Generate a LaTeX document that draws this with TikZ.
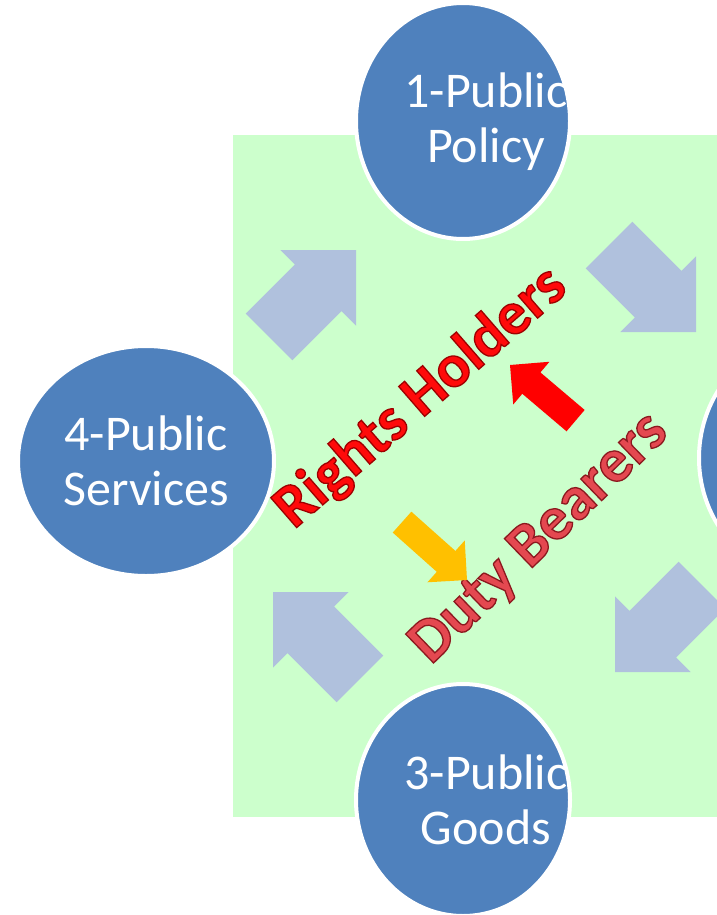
\documentclass[tikz,border=0pt]{standalone}
\usepackage{fontspec}
\setmainfont{Carlito}
\usetikzlibrary{shapes.geometric}
\definecolor{bg}{RGB}{204,255,204}
\definecolor{circ}{RGB}{79,129,189}
\definecolor{barr}{RGB}{176,193,221}
\definecolor{rh}{RGB}{255,10,10}
\definecolor{db}{RGB}{228,72,80}
\definecolor{yarr}{RGB}{255,192,0}
\newcommand{\blockarr}[7]{\fill[#7,shift={(#1,#2)},rotate=#3] (0pt,0pt) -- (-#5pt,#5pt) -- (-#5pt,#6pt) -- (-#4pt,#6pt) -- (-#4pt,-#6pt) -- (-#5pt,-#6pt) -- (-#5pt,-#5pt) -- cycle;}
\newcommand{\outlined}[2]{\special{pdf:literal direct 2 Tr 1.3 w #1 RG}#2\special{pdf:literal direct 0 Tr}}
\begin{document}
\begin{tikzpicture}[x=1pt,y=-1pt,
  circ/.style={ellipse, fill=circ, draw=white, line width=4pt, inner sep=0pt},
  lbl/.style={text=white, font=\fontsize{50}{55}\selectfont, align=center, inner sep=0pt},
  bigtxt/.style={font=\bfseries\fontsize{#1}{#1}\selectfont, inner sep=0pt}]
\useasboundingbox (0,0) rectangle (717,915);
\clip (0,0) rectangle (717,915);
\fill[bg] (233,135) rectangle (730,817);
% blue block arrows
\blockarr{356}{250}{45}{123}{53.5}{33}{barr}
\blockarr{696}{332}{-45}{123}{53.5}{33}{barr}
\blockarr{273}{592}{135}{123}{53.5}{33}{barr}
\blockarr{615}{672}{-135}{123}{53.5}{33}{barr}
% texts
\node[bigtxt=61, rotate=41, text=rh] (rights) at (421,398) {\outlined{0.62 0 0}{Rights Holders}};
\node[bigtxt=62, rotate=44, text=db] (duty) at (540,539) {\outlined{0.55 0.1 0.12}{Duty Bearers}};
% red and yellow arrows
\blockarr{510}{365}{139.7}{86}{28}{14}{red}
\blockarr{467}{580}{-41.7}{87}{28}{14}{yarr}
% circles
\node[circ, minimum width=214pt, minimum height=236pt] (c1) at (463,121) {};
\node[circ, minimum width=214pt, minimum height=236pt] (c2) at (806,458) {};
\node[circ, minimum width=214pt, minimum height=232pt] (c3) at (463,800) {};
\node[circ, minimum width=256pt, minimum height=230pt] (c4) at (146,461) {};
\node[lbl] (t1) at (486,122) {1-Public\\Policy};
\node[lbl] (t3) at (486,800) {3-Public\\Goods};
\node[lbl] (t4) at (146,461) {4-Public\\Services};
\end{tikzpicture}
\end{document}
